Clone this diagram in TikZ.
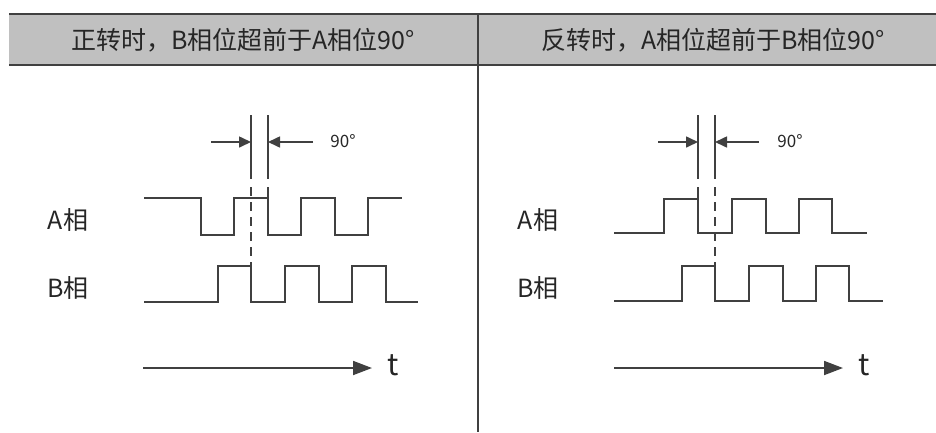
\documentclass[tikz,border=0pt]{standalone}
\usepackage{fontspec}
\setmainfont{Noto Sans CJK SC}
\usetikzlibrary{arrows.meta}

\definecolor{linegray}{HTML}{404040}
\definecolor{headgray}{HTML}{C0C0C0}

\begin{document}
\begin{tikzpicture}[
    x=1pt, y=-1pt,
    frame/.style={draw=linegray, line width=2.4pt},
    wave/.style={draw=linegray, line width=1.8pt},
    marker/.style={draw=linegray, line width=1.6pt},
    guide/.style={marker, dash pattern=on 9pt off 6pt},
    dim/.style={draw=linegray, line width=1.6pt, -{Triangle[length=12pt, width=11pt]}},
    timeax/.style={draw=linegray, line width=1.8pt, -{Triangle[length=19pt, width=14pt]}},
    title/.style={font=\fontsize{25}{29}\selectfont, text=black!85},
    phase/.style={font=\fontsize{25}{29}\selectfont, text=black!85},
    angle/.style={font=\fontsize{17}{20}\selectfont, text=black!85},
    tlabel/.style={font=\fontsize{30}{34}\selectfont, text=black!85},
]
  \useasboundingbox (0,0) rectangle (936,432);

  % header row
  \fill[headgray] (9,14) rectangle (936,65);
  \draw[frame] (9,14) -- (936,14);
  \draw[frame] (9,65) -- (936,65);
  \draw[frame] (478,14) -- (478,432);
  \node[title] (fwdtitle) at (243,40) {正转时，B相位超前于A相位90°};
  \node[title] (revtitle) at (713,40) {反转时，A相位超前于B相位90°};

  % forward rotation
  \node[phase] (fwdA) at (68,220) {A相};
  \node[phase] (fwdB) at (68,288) {B相};
  \draw[wave] (144,198) -- (201,198) -- (201,235) -- (234,235) -- (234,198)
    -- (268,198) -- (268,235) -- (301,235) -- (301,198) -- (335,198)
    -- (335,235) -- (368,235) -- (368,198) -- (402,198);
  \draw[wave] (144,302) -- (218,302) -- (218,266) -- (251,266) -- (251,302)
    -- (285,302) -- (285,266) -- (319,266) -- (319,302) -- (352,302)
    -- (352,266) -- (386,266) -- (386,302) -- (418,302);
  \draw[marker] (251,115) -- (251,179);
  \draw[guide] (251,187) -- (251,266);
  \draw[marker] (268,115) -- (268,179);
  \draw[marker] (268,187) -- (268,198);
  \coordinate (fwdL) at (211,142);
  \coordinate (fwdLtip) at (251,142);
  \coordinate (fwdR) at (313,142);
  \coordinate (fwdRtip) at (268,142);
  \draw[dim] (fwdL) -- (fwdLtip);
  \draw[dim] (fwdR) -- (fwdRtip);
  \node[angle] (fwdangle) at (343,141) {90°};
  \coordinate (fwdt0) at (143,368);
  \coordinate (fwdt1) at (372,368);
  \node[tlabel] (fwdt) at (393,365) {t};
  \draw[timeax] (fwdt0) -- (fwdt1);

  % reverse rotation
  \node[phase] (revA) at (538,220) {A相};
  \node[phase] (revB) at (538,288) {B相};
  \draw[wave] (614,233) -- (664,233) -- (664,199) -- (698,199) -- (698,233)
    -- (732,233) -- (732,199) -- (766,199) -- (766,233) -- (799,233)
    -- (799,199) -- (832,199) -- (832,233) -- (867,233);
  \draw[wave] (614,301) -- (682,301) -- (682,266) -- (715,266) -- (715,301)
    -- (749,301) -- (749,266) -- (783,266) -- (783,301) -- (816,301)
    -- (816,266) -- (849,266) -- (849,301) -- (883,301);
  \draw[marker] (698,115) -- (698,179);
  \draw[marker] (698,187) -- (698,199);
  \draw[marker] (715,115) -- (715,179);
  \draw[guide] (715,187) -- (715,266);
  \coordinate (revL) at (658,142);
  \coordinate (revLtip) at (698,142);
  \coordinate (revR) at (759,142);
  \coordinate (revRtip) at (715,142);
  \draw[dim] (revL) -- (revLtip);
  \draw[dim] (revR) -- (revRtip);
  \node[angle] (revangle) at (790,141) {90°};
  \coordinate (revt0) at (614,368);
  \coordinate (revt1) at (843,368);
  \node[tlabel] (revt) at (864,365) {t};
  \draw[timeax] (revt0) -- (revt1);
\end{tikzpicture}
\end{document}
